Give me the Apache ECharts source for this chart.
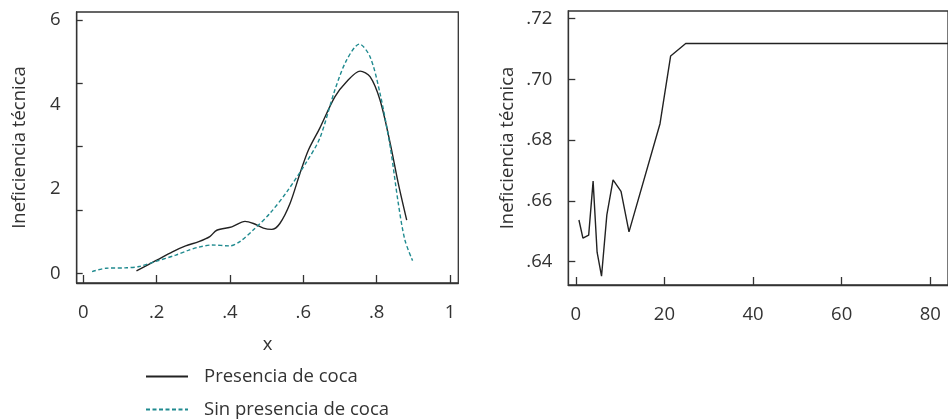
<!DOCTYPE html>
<html>
<head>
<meta charset="utf-8">
<script src="https://cdn.jsdelivr.net/npm/echarts@6/dist/echarts.min.js"></script>
<style>
  html, body { margin: 0; padding: 0; background: #fff; }
  #chart { width: 948px; height: 420px; }
</style>
</head>
<body>
<div id="chart"></div>
<script>
    // left panel: x vs ineficiencia
    var conCocaX = [0.145, 0.2, 0.243, 0.279, 0.315, 0.345, 0.364, 0.405, 0.441, 0.464, 0.491, 0.514, 0.536, 0.564, 0.591, 0.614, 0.645, 0.686, 0.718, 0.755, 0.782, 0.809, 0.837, 0.859, 0.882];
    var conCocaY = [0.06, 0.31, 0.51, 0.65, 0.75, 0.87, 1.02, 1.10, 1.23, 1.18, 1.07, 1.04, 1.18, 1.66, 2.37, 2.92, 3.44, 4.18, 4.54, 4.79, 4.66, 4.11, 3.08, 2.13, 1.26];

    var sinCocaX = [0.024, 0.062, 0.116, 0.152, 0.197, 0.252, 0.288, 0.315, 0.351, 0.40, 0.427, 0.464, 0.509, 0.555, 0.609, 0.645, 0.686, 0.718, 0.753, 0.782, 0.809, 0.837, 0.859, 0.877, 0.898];
    var sinCocaY = [0.04, 0.12, 0.13, 0.16, 0.28, 0.43, 0.55, 0.62, 0.67, 0.65, 0.75, 1.03, 1.42, 1.93, 2.64, 3.2, 4.34, 5.05, 5.43, 5.13, 4.27, 3.0, 1.66, 0.79, 0.30];

    // right panel
    var derX = [0.7, 1.6, 2.9, 3.9, 4.8, 5.8, 7, 8.4, 10.2, 12, 19, 21.4, 24.8, 84];
    var derY = [0.6537, 0.6477, 0.6487, 0.6665, 0.6431, 0.6352, 0.6554, 0.6669, 0.6631, 0.6498, 0.6854, 0.7077, 0.7118, 0.7118];

    var leftXTicks = [0, 0.2, 0.4, 0.6, 0.8, 1];
    var leftYTicks = [0, 1.5, 3, 4.5, 6];
    var leftYLabels = [0, 2, 4, 6];
    var rightXTicks = [0, 20, 40, 60, 80];
    var rightYTicks = [0.64, 0.66, 0.68, 0.70, 0.72];

    var serie1 = 'Presencia de coca';
    var serie2 = 'Sin presencia de coca';

    var font = '"Open Sans"';
    var fs = 18.5;
    var txt = '#333';
    var axisCol = '#333';

    function pairs(xs, ys) {
        return xs.map(function (x, i) { return [x, ys[i]]; });
    }
    function fmtDec(v) {
        if (v === 0) return '0';
        if (v === 1) return '1';
        return String(v).replace(/^0/, '');
    }
    function fmtTwo(v) {
        return v.toFixed(2).replace(/^0/, '');
    }

    function xAxisBase(min, max, ticks, gridIdx) {
        return {
            type: 'value', gridIndex: gridIdx, min: min, max: max,
            splitLine: {show: false},
            axisLine: {show: true, onZero: false, lineStyle: {color: axisCol, width: 1.3}},
            axisTick: {show: true, inside: true, length: 8, customValues: ticks, lineStyle: {color: axisCol, width: 1.3}},
            axisLabel: {customValues: ticks, margin: 20, fontFamily: font, fontSize: fs, color: txt, formatter: fmtDec}
        };
    }

    var chart = echarts.init(document.getElementById('chart'));
    var option = {
        animation: false,
        backgroundColor: '#fff',
        grid: [
            {left: 76.7, top: 12, width: 381.6, height: 271, show: true, borderColor: axisCol, borderWidth: 1.3},
            {left: 568.3, top: 11, right: -6, height: 274, show: true, borderColor: axisCol, borderWidth: 1.3}
        ],
        legend: {
            orient: 'vertical', left: 145, top: 367, height: 60, padding: 0, itemGap: 14,
            itemWidth: 42, itemHeight: 14,
            data: [serie1, serie2],
            itemStyle: {opacity: 0},
            textStyle: {fontFamily: font, fontSize: fs, color: txt, padding: [0, 0, 0, 11]}
        },
        xAxis: [
            Object.assign(xAxisBase(-0.018, 1.0227, leftXTicks, 0), {
                name: 'x', nameLocation: 'middle', nameGap: 52,
                nameTextStyle: {fontFamily: font, fontSize: fs, color: txt}
            }),
            Object.assign(xAxisBase(-1.7, 84, rightXTicks, 1), {})
        ],
        yAxis: [
            {
                type: 'value', gridIndex: 0, min: -0.23, max: 6.19,
                name: 'Ineficiencia técnica', nameLocation: 'middle', nameGap: 47,
                nameTextStyle: {fontFamily: font, fontSize: fs, color: txt},
                splitLine: {show: false},
                axisLine: {show: true, onZero: false, lineStyle: {color: axisCol, width: 1.3}},
                axisTick: {show: true, inside: true, length: 6, customValues: leftYTicks, lineStyle: {color: axisCol, width: 1.3}},
                axisLabel: {customValues: leftYLabels, margin: 16, fontFamily: font, fontSize: fs, color: txt}
            },
            {
                type: 'value', gridIndex: 1, min: 0.6323, max: 0.7225,
                name: 'Ineficiencia técnica', nameLocation: 'middle', nameGap: 51,
                nameTextStyle: {fontFamily: font, fontSize: fs, color: txt},
                splitLine: {show: false},
                axisLine: {show: true, onZero: false, lineStyle: {color: axisCol, width: 1.3}},
                axisTick: {show: true, inside: true, length: 7, customValues: rightYTicks, lineStyle: {color: axisCol, width: 1.3}},
                axisLabel: {customValues: rightYTicks, margin: 16, fontFamily: font, fontSize: fs, color: txt, formatter: fmtTwo}
            }
        ],
        series: [
            {
                name: serie1, type: 'line', xAxisIndex: 0, yAxisIndex: 0,
                data: pairs(conCocaX, conCocaY), smooth: 0.3, symbol: 'none',
                lineStyle: {color: '#222', width: 1.4}, itemStyle: {color: '#222'}
            },
            {
                name: serie2, type: 'line', xAxisIndex: 0, yAxisIndex: 0,
                data: pairs(sinCocaX, sinCocaY), smooth: 0.3, symbol: 'none',
                lineStyle: {color: '#1f8a8f', width: 1.4, type: [4, 2.5]}, itemStyle: {color: '#1f8a8f'}
            },
            {
                name: 'derecha', type: 'line', xAxisIndex: 1, yAxisIndex: 1,
                data: pairs(derX, derY), symbol: 'none',
                lineStyle: {color: '#222', width: 1.4}, itemStyle: {color: '#222'}
            }
        ]
    };
    chart.setOption(option);
</script>
</body>
</html>
